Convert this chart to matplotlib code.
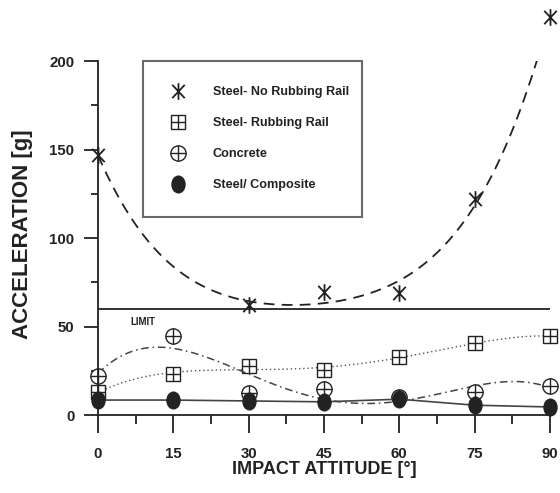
import numpy as np
import matplotlib
matplotlib.use("Agg")
import matplotlib.pyplot as plt
from matplotlib import font_manager as fm
from matplotlib.path import Path
from matplotlib.transforms import Affine2D

# ---------------- data ----------------
angles = [0, 15, 30, 45, 60, 75, 90]
no_rub_x = [0, 30, 45, 60, 75, 90]
no_rub_y = [147, 62, 69.5, 69, 122, 225]
rub_y = [13, 23, 27.7, 25.4, 32.8, 40.7, 44.6]
concrete_y = [22, 44.6, 12.4, 14.7, 10, 13, 16.4]
composite_y = [8.5, 8.5, 8, 7.5, 9, 5.6, 4.6]
limit_value = 60
labels = ["Steel- No Rubbing Rail", "Steel- Rubbing Rail", "Concrete", "Steel/ Composite"]
xticks = [0, 15, 30, 45, 60, 75, 90]
yticks = [0, 50, 100, 150, 200]

# ---------------- fonts ----------------
names = {f.name for f in fm.fontManager.ttflist}
narrow = "Liberation Sans Narrow" in names
if narrow:
    nf = "Liberation Sans Narrow"
    s_tick, s_xlab, s_leg, s_lim = 13.5, 15.5, 11, 8.4
else:
    nf = "Liberation Sans"
    s_tick, s_xlab, s_leg, s_lim = 10.8, 13, 9.1, 6.9
plt.rcParams["font.family"] = [nf, "DejaVu Sans"]

fig = plt.figure(figsize=(5.6, 4.93), dpi=100)
ax = fig.add_axes([0.175, 0.158, 0.807, 0.718])
ax.set_xlim(0, 90)
ax.set_ylim(0, 200)

ink = "#222222"

# markers
ast_path = Path(
    [(0, -1), (0, 1), (-0.75, -0.8), (0.75, 0.8), (-0.75, 0.8), (0.75, -0.8)],
    [Path.MOVETO, Path.LINETO, Path.MOVETO, Path.LINETO, Path.MOVETO, Path.LINETO],
)
ell_path = Path.unit_circle().transformed(Affine2D().scale(0.78, 1.0))

xs = np.linspace(0, 90, 300)

# Steel - No rubbing rail
c = np.polyfit(no_rub_x, no_rub_y, 4)
ax.plot(xs, np.polyval(c, xs), color=ink, lw=1.3, ls=(0, (6, 4)))
h1 = ax.plot(no_rub_x, no_rub_y, ls="none", marker=ast_path, ms=12, mec=ink, mew=1.3,
             clip_on=False)[0]

# Steel - rubbing rail
c = np.polyfit(angles, rub_y, 4)
ax.plot(xs, np.polyval(c, xs), color="#555555", lw=1.0, ls=(0, (1, 2)))
h2a = ax.plot(angles, rub_y, ls="none", marker="s", ms=10, mfc="white", mec=ink, mew=1.0,
              clip_on=False)[0]
h2b = ax.plot(angles, rub_y, ls="none", marker="+", ms=10, mec=ink, mew=1.0,
              clip_on=False)[0]

# Concrete
c = np.polyfit(angles, concrete_y, 4)
ax.plot(xs, np.polyval(c, xs), color="#444444", lw=1.1, ls=(0, (5, 2.5, 1, 2.5)))
h3a = ax.plot(angles, concrete_y, ls="none", marker="o", ms=11, mfc="white", mec=ink,
              mew=1.0, clip_on=False)[0]
h3b = ax.plot(angles, concrete_y, ls="none", marker="+", ms=11, mec=ink, mew=1.0,
              clip_on=False)[0]

# Steel / composite
ax.plot(angles, composite_y, color="#444444", lw=1.2, clip_on=False)
h4 = ax.plot(angles, composite_y, ls="none", marker=ell_path, ms=12, mfc=ink, mec=ink,
             clip_on=False)[0]

# Limit
ax.axhline(limit_value, color=ink, lw=1.3)
ax.text(6.4, 52.5, "LIMIT", fontsize=s_lim, fontweight="bold", color=ink,
        va="center", ha="left")

# axes styling
for s in ["top", "right"]:
    ax.spines[s].set_visible(False)
for s in ["left", "bottom"]:
    ax.spines[s].set_color(ink)
    ax.spines[s].set_linewidth(1.3)
ax.set_xticks(xticks)
ax.set_xticks(np.arange(7.5, 90, 15), minor=True)
ax.set_yticks(yticks)
ax.set_yticks([25, 75, 125, 175], minor=True)
ax.tick_params(axis="x", which="major", length=13, width=1.3, color=ink, pad=10,
               labelsize=s_tick)
ax.tick_params(axis="x", which="minor", length=6.5, width=1.3, color=ink)
ax.tick_params(axis="y", which="major", length=10, width=1.3, color=ink, pad=7,
               labelsize=s_tick)
ax.tick_params(axis="y", which="minor", length=5, width=1.3, color=ink)
for lab in ax.get_xticklabels() + ax.get_yticklabels():
    lab.set_fontweight("bold")
    lab.set_color(ink)

ax.set_xlabel("IMPACT ATTITUDE [°]", fontsize=s_xlab, fontweight="bold", color=ink,
              labelpad=0)
fig.text(0.04, 0.525, "ACCELERATION [g]", rotation=90, fontsize=16, fontweight="bold",
         family=["Liberation Sans", "DejaVu Sans"], color=ink, ha="center", va="center")

leg = ax.legend([h1, (h2a, h2b), (h3a, h3b), h4], labels,
                loc="upper left", bbox_to_anchor=(0.0996, 0.562, 0.4845, 0.438),
                mode="expand", borderaxespad=0,
                prop={"weight": "bold", "size": s_leg},
                frameon=True, fancybox=False, edgecolor="#444444",
                borderpad=2.0, labelspacing=1.5, handlelength=1.6, handletextpad=1.9)
leg.get_frame().set_linewidth(1.5)
for t in leg.get_texts():
    t.set_color(ink)

fig.savefig("out.png", dpi=100)
